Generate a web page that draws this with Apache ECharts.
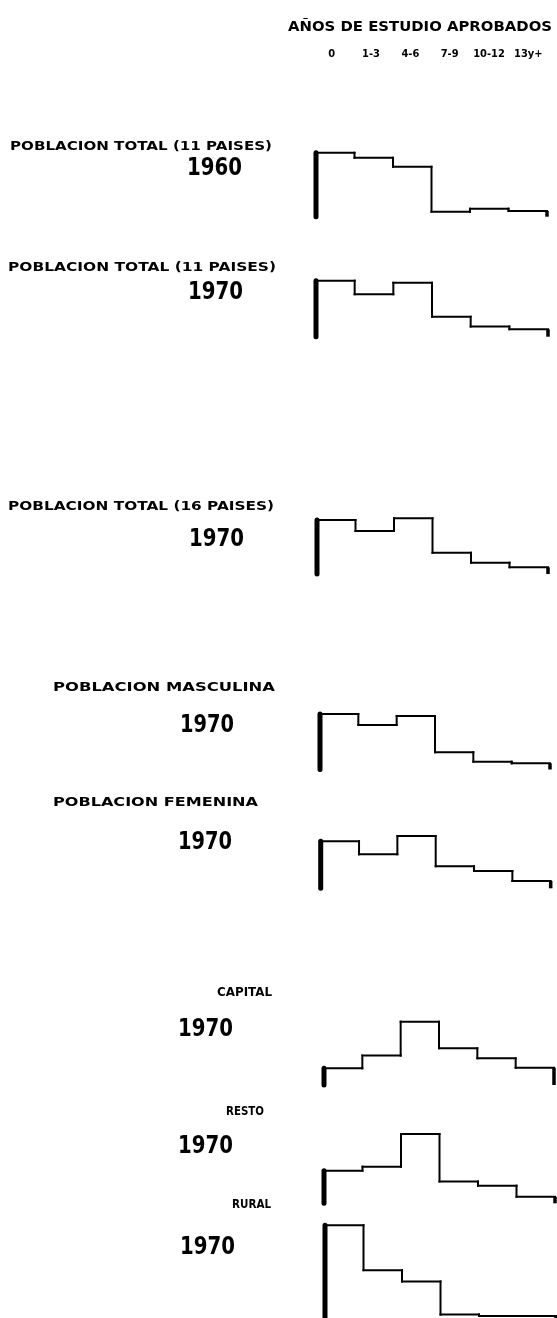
<!DOCTYPE html>
<html><head><meta charset="utf-8">
<script src="https://cdn.jsdelivr.net/npm/echarts@6/dist/echarts.min.js"></script>
<style>html,body{margin:0;padding:0;background:#fff}#c{width:557px;height:1318px}</style>
</head><body><div id="c"></div>
<script>
// ---- data ----
const headerTitle = 'AÑOS DE ESTUDIO APROBADOS';
const tickLabels = ['0', '1-3', '4-6', '7-9', '10-12', '13y+'];
const groupLabels = [
  'POBLACION TOTAL (11 PAISES)',
  'POBLACION TOTAL (11 PAISES)',
  'POBLACION TOTAL (16 PAISES)',
  'POBLACION MASCULINA',
  'POBLACION FEMENINA',
  'CAPITAL',
  'RESTO',
  'RURAL'
];
const yearLabels = ['1960', '1970', '1970', '1970', '1970', '1970', '1970', '1970'];

// percentage of population by years of schooling
const total11_1960 = [33.3, 30.7, 26.0, 2.6, 4.2, 3.0];
const total11_1970 = [29.2, 22.1, 28.1, 10.4, 5.3, 3.9];
const total16_1970 = [28.1, 22.4, 29.0, 11.1, 5.9, 3.5];
const male_1970    = [28.9, 23.2, 27.9, 9.0, 4.1, 3.2];
const female_1970  = [24.5, 17.7, 27.2, 11.5, 9.0, 3.8];
const capital_1970 = [8.7, 15.3, 33.0, 19.1, 13.9, 9.0];
const resto_1970   = [17.0, 19.1, 36.1, 11.3, 9.2, 3.4];
const rural_1970   = [49.5, 25.5, 19.5, 1.8, 1.0, 1.0];
const seriesList = [total11_1960, total11_1970, total16_1970, male_1970, female_1970, capital_1970, resto_1970, rural_1970];

// ---- layout (pixels) ----
const chartBoxes = [
  {left: 316, right: 547, base: 216.7},
  {left: 316, right: 548, base: 336.7},
  {left: 317, right: 548, base: 574},
  {left: 320, right: 550, base: 769.5},
  {left: 320.7, right: 550.7, base: 888.3},
  {left: 324, right: 554, base: 1085},
  {left: 324, right: 555, base: 1203.3},
  {left: 325, right: 556, base: 1320.2}
];
const Y_MAX = 50, PX_PER_UNIT = 1.92;
const labelBoxes = [
  {x: 10, y: 147, w: 262}, {x: 8, y: 268, w: 268}, {x: 8, y: 507, w: 266},
  {x: 53, y: 687.5, w: 222}, {x: 53, y: 803, w: 205}, {x: 217, y: 993, w: 55},
  {x: 226, y: 1112, w: 38}, {x: 232, y: 1205, w: 39}
];
const yearBoxes = [
  {x: 187, y: 169, w: 55}, {x: 188, y: 293, w: 55}, {x: 189, y: 540, w: 55},
  {x: 180, y: 726, w: 54}, {x: 178, y: 843, w: 54}, {x: 178, y: 1030, w: 55},
  {x: 178, y: 1147, w: 55}, {x: 180, y: 1248, w: 55}
];

const FAM = '"DejaVu Sans"';
const mctx = document.createElement('canvas').getContext('2d');
function fitText(text, font, x, y, w) {
  mctx.font = font;
  const mw = mctx.measureText(text).width;
  return {
    type: 'text', x: x, y: y, scaleX: w / mw, silent: true,
    style: {text: text, font: font, fill: '#000', align: 'left', verticalAlign: 'middle'}
  };
}

const grids = [], xAxes = [], yAxes = [], series = [];
// header axis grid
grids.push({left: 312, width: 236, top: 40, height: 6});
xAxes.push({gridIndex: 0, type: 'category', data: tickLabels,
  axisLine: {show: false}, axisTick: {show: false}, splitLine: {show: false},
  axisLabel: {interval: 0, margin: 3, color: '#000', fontFamily: '"DejaVu Sans Condensed","DejaVu Sans"', fontWeight: 'bold', fontSize: 11}});
yAxes.push({gridIndex: 0, type: 'value', show: false});

function makeRender(vals) {
  return function (params, api) {
    const i = params.dataIndex;
    const x0 = api.value(0);
    const v = api.value(1);
    const p0 = api.coord([x0, v]);
    const p1 = api.coord([x0 + 1, v]);
    const prev = i === 0 ? 0 : vals[i - 1];
    const q = api.coord([x0, prev]);
    const children = [
      {type: 'line', shape: {x1: p0[0], y1: p0[1], x2: p1[0], y2: p1[1]},
        style: {stroke: '#000', lineWidth: 2, lineCap: 'square'}},
      {type: 'line', shape: {x1: q[0], y1: q[1], x2: p0[0], y2: p0[1]},
        style: {stroke: '#000', lineWidth: i === 0 ? 5 : 2, lineCap: i === 0 ? 'round' : 'square'}}
    ];
    if (i === vals.length - 1) {
      const b = api.coord([x0 + 1, 0]);
      children.push({type: 'line', shape: {x1: p1[0], y1: p1[1], x2: b[0], y2: b[1]},
        style: {stroke: '#000', lineWidth: 3.5, lineCap: 'butt'}});
    }
    return {type: 'group', children: children};
  };
}

seriesList.forEach(function (vals, k) {
  const box = chartBoxes[k];
  const h = Y_MAX * PX_PER_UNIT;
  const gi = k + 1;
  grids.push({left: box.left, width: box.right - box.left, top: box.base - h, height: h});
  xAxes.push({gridIndex: gi, type: 'value', min: 0, max: tickLabels.length, show: false});
  yAxes.push({gridIndex: gi, type: 'value', min: 0, max: Y_MAX, show: false});
  series.push({
    type: 'custom', xAxisIndex: gi, yAxisIndex: gi, clip: false, silent: true,
    renderItem: makeRender(vals),
    data: vals.map(function (v, i) { return [i, v]; })
  });
});

const graphics = [fitText(headerTitle, 'bold 14px ' + FAM, 288, 27, 264)];
groupLabels.forEach(function (t, k) {
  const b = labelBoxes[k];
  graphics.push(fitText(t, 'bold 12px ' + FAM, b.x, b.y, b.w));
});
yearLabels.forEach(function (t, k) {
  const b = yearBoxes[k];
  graphics.push(fitText(t, 'bold 24px ' + FAM, b.x, b.y, b.w));
});

const chart = echarts.init(document.getElementById('c'), null, {renderer: 'canvas'});
chart.setOption({
  backgroundColor: '#fff',
  animation: false,
  grid: grids, xAxis: xAxes, yAxis: yAxes, series: series,
  graphic: graphics
});
</script></body></html>
